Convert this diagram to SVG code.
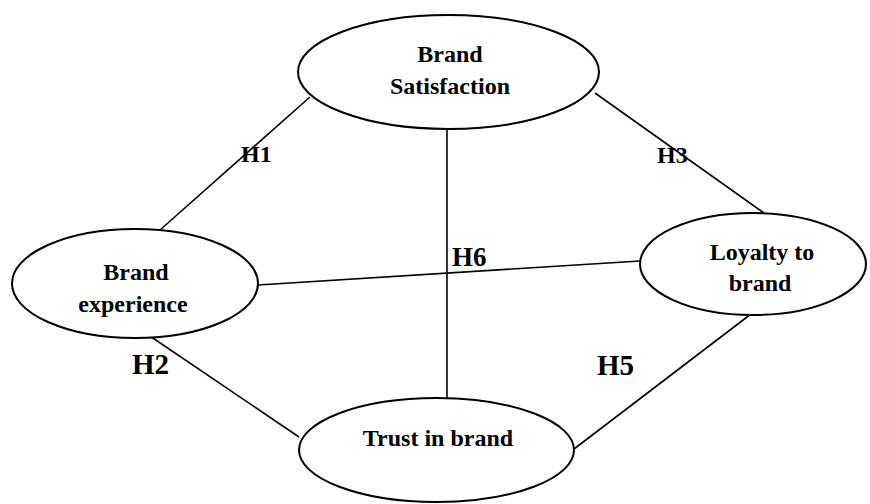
<svg xmlns="http://www.w3.org/2000/svg" width="870" height="504" viewBox="0 0 870 504">
<style>
.node{fill:#fff;stroke:#000;stroke-width:2}
.t{font-family:"Liberation Serif","Times New Roman",serif;font-weight:bold;font-size:24px;fill:#000;text-anchor:middle}
.h{font-family:"Liberation Serif","Times New Roman",serif;font-weight:bold;fill:#000}
.c line{stroke:#000;stroke-width:1.6}
</style>
<rect width="870" height="504" fill="#fff"/>
<g id="connectors" class="c">
<line x1="310" y1="97" x2="160" y2="230"/>
<line x1="595" y1="93" x2="764" y2="213"/>
<line x1="447" y1="128" x2="447" y2="398"/>
<line x1="258" y1="285" x2="640" y2="261"/>
<line x1="144" y1="332" x2="299" y2="437"/>
<line x1="574" y1="449" x2="751" y2="314"/>
</g>
<g id="brand-satisfaction">
<ellipse class="node" cx="448.5" cy="72" rx="150.5" ry="57"/>
<text class="t" x="450" y="62">Brand</text>
<text class="t" x="450" y="94">Satisfaction</text>
</g>
<g id="brand-experience">
<ellipse class="node" cx="135" cy="283.5" rx="123" ry="54.5"/>
<text class="t" x="136" y="280" font-size="27">Brand</text>
<text class="t" x="133" y="312" font-size="27">experience</text>
</g>
<g id="loyalty-to-brand">
<ellipse class="node" cx="753" cy="264" rx="113" ry="51"/>
<text class="t" x="762" y="260">Loyalty to</text>
<text class="t" x="760" y="291">brand</text>
</g>
<g id="trust-in-brand">
<ellipse class="node" cx="436.5" cy="450" rx="137.5" ry="52"/>
<text class="t" x="438" y="446">Trust in brand</text>
</g>
<g id="labels">
<text class="h" x="241" y="162" font-size="24">H1</text>
<text class="h" x="657" y="163" font-size="24">H3</text>
<text class="h" x="452" y="266" font-size="27">H6</text>
<text class="h" x="132" y="374" font-size="29">H2</text>
<text class="h" x="597" y="375" font-size="29">H5</text>
</g>
</svg>
